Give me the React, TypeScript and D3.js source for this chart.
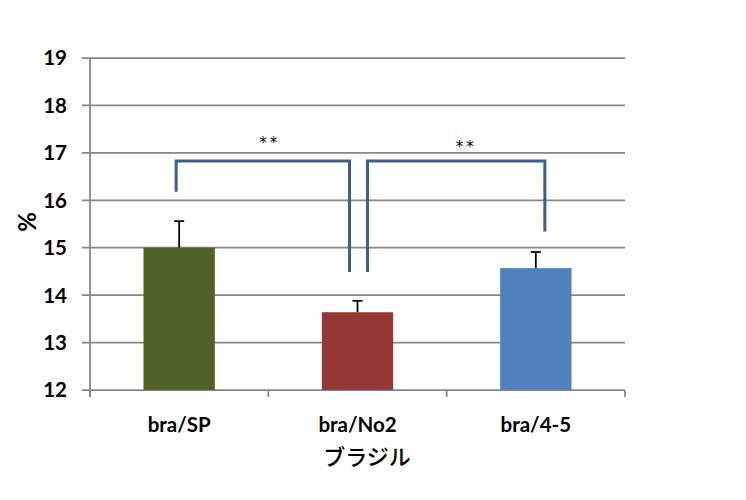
import React from "react";
import * as d3 from "d3";

const categories = ["bra/SP", "bra/No2", "bra/4-5"];
const values = [15.0, 13.64, 14.57];
const errors = [0.56, 0.24, 0.34];
const colors = ["#4F6228", "#953735", "#4F81BD"];
const yTicks = [12, 13, 14, 15, 16, 17, 18, 19];
const brackets = [
  { from: 0, to: 1, leftEnd: 16.18, rightEnd: 14.49, top: 16.83, label: "**" },
  { from: 1, to: 2, leftEnd: 14.49, rightEnd: 15.34, top: 16.83, label: "**" },
];

export default function App() {
  const W = 746, H = 500;
  const left = 90, right = 625, top = 58, bottom = 390;
  const x = d3.scaleBand().domain(categories).range([left, right]).paddingInner(0.6).paddingOuter(0.3);
  const xb = d3.scaleBand().domain(categories).range([left, right]);
  const y = d3.scaleLinear().domain([12, 19]).range([bottom, top]);
  const grid = "#878787";
  const bc = "#3D5F8D";
  const font = "Lato, 'Open Sans', sans-serif";

  return (
    <svg width={W} height={H} style={{ position: "absolute", left: 0, top: 0 }}>
      <rect width={W} height={H} fill="#fff" />
      {yTicks.map((t) => (
        <g key={t}>
          <line x1={left - 8} x2={right} y1={y(t)} y2={y(t)} stroke={grid} strokeWidth={1.75} />
          <text x={67} y={y(t)} dy="0.36em" textAnchor="end" fontFamily={font} fontWeight="bold" fontSize={20.5} fill="#000">{t}</text>
        </g>
      ))}
      <line x1={left} x2={left} y1={top} y2={bottom + 7} stroke={grid} strokeWidth={1.75} />
      {[...categories.map((c) => xb(c)!), right].map((px, i) => (
        <line key={i} x1={px} x2={px} y1={bottom} y2={bottom + 7} stroke={grid} strokeWidth={1.75} />
      ))}
      {categories.map((c, i) => {
        const cx = x(c)! + x.bandwidth() / 2;
        return (
          <g key={c}>
            <line x1={cx} x2={cx} y1={y(values[i])} y2={y(values[i] + errors[i])} stroke="#000" strokeWidth={1.75} />
            <line x1={cx - 5} x2={cx + 5} y1={y(values[i] + errors[i])} y2={y(values[i] + errors[i])} stroke="#000" strokeWidth={1.75} />
            <rect x={x(c)} y={y(values[i])} width={x.bandwidth()} height={bottom - y(values[i])} fill={colors[i]} />
            <text x={cx} y={432} textAnchor="middle" fontFamily={font} fontWeight="bold" fontSize={20.5} fill="#000">{c}</text>
          </g>
        );
      })}
      {brackets.map((b, i) => {
        const cxFrom = x(categories[b.from])! + x.bandwidth() / 2;
        const cxTo = x(categories[b.to])! + x.bandwidth() / 2;
        const lx = i === 0 ? cxFrom - 3 : cxFrom + 10;
        const rx = i === 0 ? cxTo - 8 : cxTo + 9;
        return (
          <g key={i}>
            <path d={`M${lx},${y(b.leftEnd)} V${y(b.top)} H${rx} V${y(b.rightEnd)}`} fill="none" stroke={bc} strokeWidth={3} />
            <text x={(lx + rx) / 2 + (i === 0 ? 7 : 10)} y={y(b.top) - (i === 0 ? 17 : 13)} textAnchor="middle" dominantBaseline="middle" fontFamily="'DejaVu Sans', sans-serif" fontSize={15} letterSpacing={3} fill="#000">{b.label}</text>
          </g>
        );
      })}
      <text transform={`translate(30,${(top + bottom) / 2 - 2}) rotate(-90)`} textAnchor="middle" dominantBaseline="middle" fontFamily={font} fontWeight="bold" fontSize={24} fill="#000">%</text>
      <text x={367} y={459} textAnchor="middle" dominantBaseline="middle" fontFamily="'Noto Sans CJK JP', sans-serif" fontWeight={500} fontSize={22} fill="#000">ブラジル</text>
    </svg>
  );
}
